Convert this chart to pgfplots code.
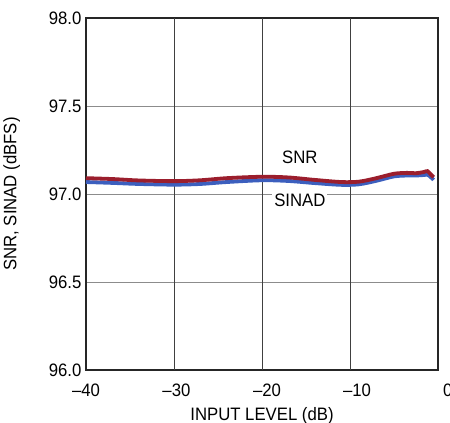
\documentclass[border=0pt]{standalone}
\usepackage{pgfplots}
\pgfplotsset{compat=1.18}
\usepackage{fontspec}
\setmainfont{Liberation Sans}[FakeStretch=0.93]
\definecolor{snrred}{RGB}{155,30,45}
\definecolor{sinadblue}{RGB}{60,95,190}
\begin{document}
\begin{tikzpicture}[x=1pt,y=1pt]
\begin{axis}[
  at={(0,0)}, anchor=south west,
  scale only axis, width=352pt, height=352pt,
  xmin=-40, xmax=0, ymin=96, ymax=98,
  % labels in the original sit slightly off the grid lines
  xtick={-40,-29.72,-19.43,-9.2},
  xticklabels={–40,–30,–20,–10},
  extra x ticks={-30,-20,-10},
  extra x tick labels={},
  extra x tick style={grid=major},
  ytick={96,96.5,97,97.5,98},
  yticklabels={96.0,96.5,97.0,97.5,98.0},
  major tick length=0pt,
  font=\fontsize{18}{20}\selectfont,
  tick label style={font=\fontsize{18}{20}\selectfont},
  axis line style={line width=1.3pt, black!85},
  ymajorgrids,
  x grid style={black!75, line width=0.8pt},
  y grid style={black!45, line width=0.8pt},
  xticklabel style={yshift=-10pt},
  yticklabel style={xshift=-1pt},
  xlabel={INPUT LEVEL (dB)},
  ylabel={SNR, SINAD (dBFS)},
  xlabel style={yshift=-4pt},
  ylabel style={yshift=22pt},
  clip=false,
]
\addplot[sinadblue, line width=3.8pt, smooth] coordinates {
(-40,97.068) (-37,97.063) (-34,97.057) (-30,97.053) (-27,97.057) (-24,97.068)
(-20,97.078) (-17,97.074) (-14,97.062) (-11,97.052) (-9,97.055) (-7,97.075)
(-5,97.100) (-3.5,97.105) (-2.5,97.105) (-1.6,97.108) (-1.2,97.110) (-0.8,97.095) (-0.5,97.080)
};
\addplot[snrred, line width=3.8pt, smooth] coordinates {
(-40,97.090) (-37,97.085) (-34,97.077) (-30,97.073) (-27,97.078) (-24,97.090)
(-20,97.098) (-17,97.094) (-14,97.080) (-11,97.068) (-9,97.070) (-7,97.090)
(-5,97.115) (-3.5,97.120) (-2.5,97.118) (-1.6,97.125) (-1.2,97.130) (-0.8,97.110) (-0.5,97.095)
};
\node[font=\fontsize{18}{20}\selectfont] at (axis cs:-15.7,97.21) {SNR};
\node[font=\fontsize{18}{20}\selectfont, fill=white, inner sep=2pt] at (axis cs:-15.7,96.965) {SINAD};
% the 0 label lies beyond xmax, cut by the picture's edge
\node[font=\fontsize{18}{20}\selectfont, anchor=north, yshift=-10pt] at (axis cs:1.1,96) {0};
\end{axis}
\pgfresetboundingbox
\useasboundingbox (-86,-53) rectangle (364,370);
\end{tikzpicture}
\end{document}
